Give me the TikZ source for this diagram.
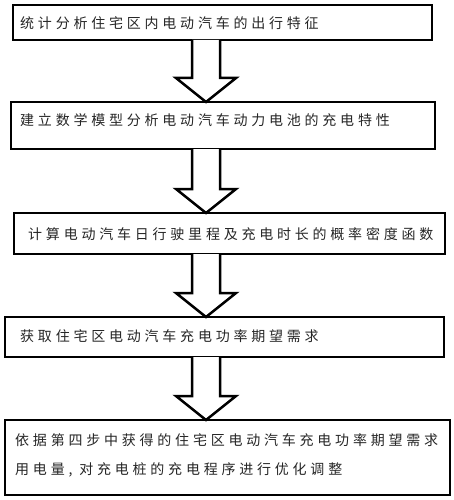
\documentclass[tikz,border=0pt]{standalone}
\usepackage{fontspec}
\newfontfamily\cjk[LetterSpace=27]{Noto Sans CJK SC}
\usetikzlibrary{calc}
\tikzset{
  box/.style={draw=black, line width=2.8pt, inner sep=0pt, outer sep=0pt, fill=white},
  txt/.style={anchor=west, inner sep=0pt, font=\cjk\fontsize{14pt}{30pt}\selectfont, text=black!85},
  blockarrow/.style={draw=black, line width=2.5pt, line join=miter, fill=white}
}
\begin{document}
\begin{tikzpicture}[x=1pt,y=-1pt]
\useasboundingbox (0,0) rectangle (453,500);
\coordinate (ax) at (206,0);
\node[box, minimum width=419pt, minimum height=35pt] (b1) at (222.5,22.5) {};
\node[box, minimum width=424pt, minimum height=47pt] (b2) at (223,125.5) {};
\node[box, minimum width=431pt, minimum height=41pt] (b3) at (229.5,233.5) {};
\node[box, minimum width=439pt, minimum height=40pt] (b4) at (224.5,337) {};
\node[box, minimum width=445pt, minimum height=75pt] (b5) at (227.5,457.5) {};

\node[txt] (t1) at (20,23) {统计分析住宅区内电动汽车的出行特征};
\node[txt] (t2) at (20,120) {建立数学模型分析电动汽车动力电池的充电特性};
\node[txt] (t3) at (28,234) {计算电动汽车日行驶里程及充电时长的概率密度函数};
\node[txt] (t4) at (20,336) {获取住宅区电动汽车充电功率期望需求};
\node[txt] (t5a) at (15,440) {依据第四步中获得的住宅区电动汽车充电功率期望需求};
\node[txt] (t5b) at (15,470) {用电量, 对充电桩的充电程序进行优化调整};

\foreach \a/\b in {b1/b2, b2/b3, b3/b4, b4/b5}{
  \draw[blockarrow] ($(\a.south -| ax)+(-14,0)$) -- ($(\b.north -| ax)+(-14,-24)$) -- ++(-16,0)
    -- (\b.north -| ax) -- ++(30,-24) -- ++(-16,0) -- ($(\a.south -| ax)+(14,0)$);
}
\end{tikzpicture}
\end{document}
